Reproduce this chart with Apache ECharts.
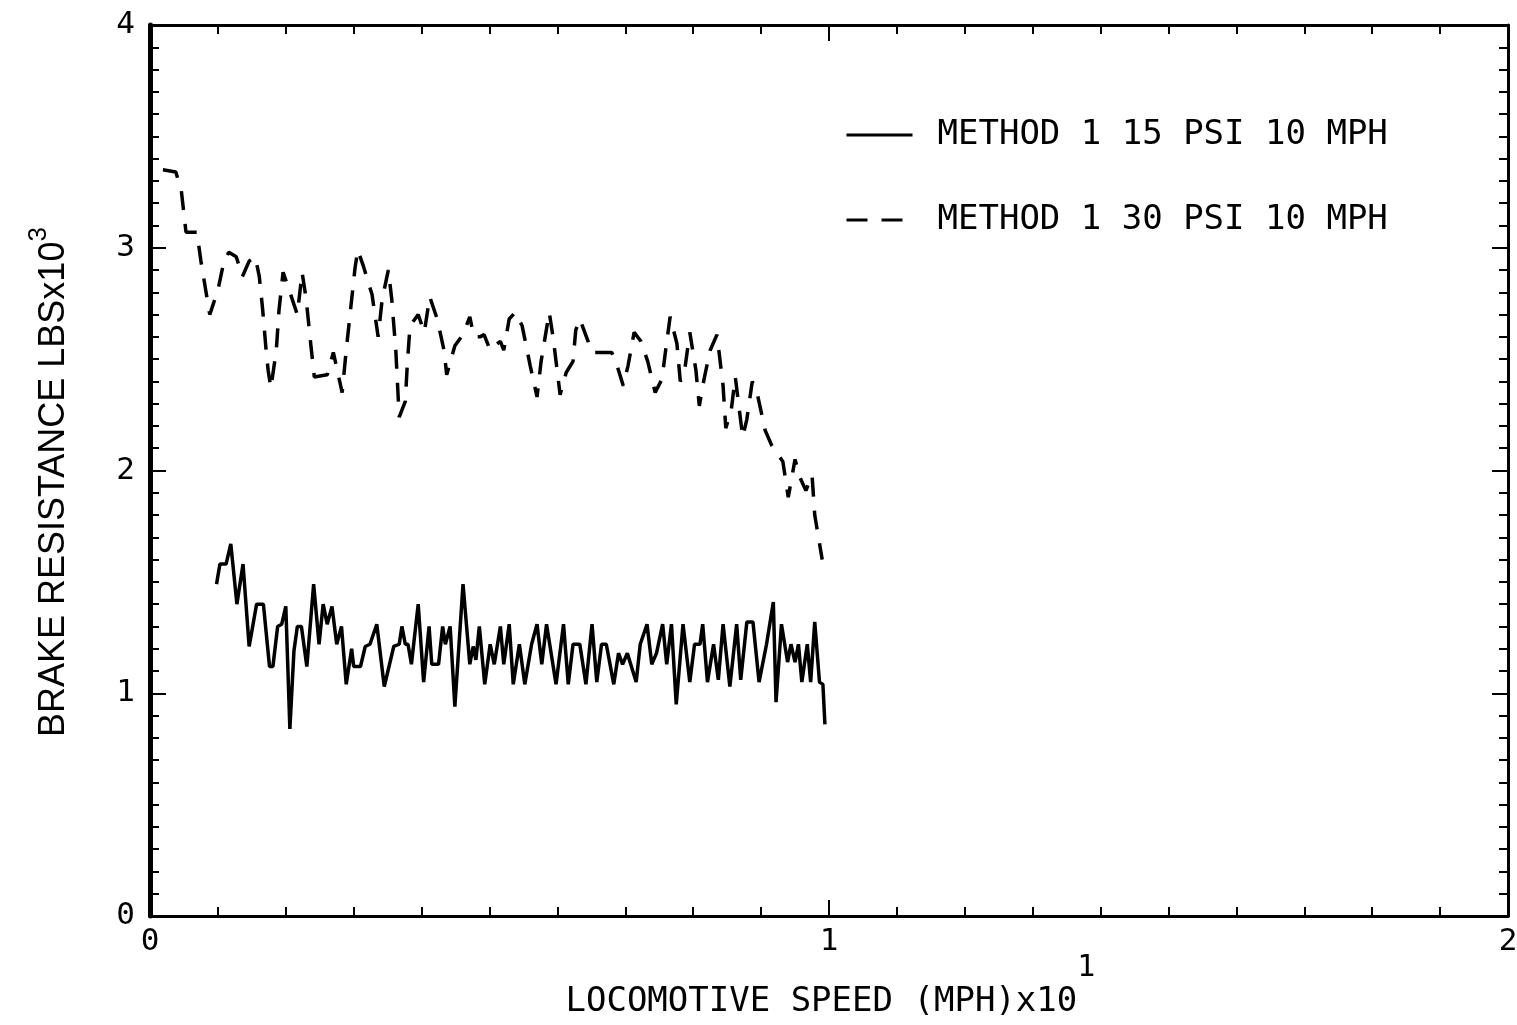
<!DOCTYPE html>
<html>
<head>
<meta charset="utf-8">
<script src="https://cdn.jsdelivr.net/npm/echarts@6/dist/echarts.min.js"></script>
<style>
  html, body { margin: 0; padding: 0; background: #fff; }
  #chart { width: 1517px; height: 1025px; }
</style>
</head>
<body>
<div id="chart"></div>
<script>
// METHOD 1 15 PSI 10 MPH  (speed x10 mph, resistance x10^3 lbs)
var speed15 = [0.098, 0.103, 0.112, 0.119, 0.128, 0.137, 0.146, 0.157, 0.167, 0.176,
  0.181, 0.188, 0.194, 0.200, 0.206, 0.212, 0.217, 0.223, 0.231, 0.241,
  0.249, 0.255, 0.261, 0.268, 0.275, 0.282, 0.289, 0.297, 0.300, 0.310,
  0.317, 0.324, 0.334, 0.345, 0.352, 0.359, 0.367, 0.371, 0.376, 0.380,
  0.385, 0.395, 0.403, 0.411, 0.415, 0.425, 0.431, 0.435, 0.442, 0.449,
  0.461, 0.471, 0.476, 0.480, 0.485, 0.493, 0.501, 0.507, 0.516, 0.521,
  0.529, 0.535, 0.544, 0.552, 0.562, 0.570, 0.577, 0.584, 0.598, 0.609,
  0.616, 0.623, 0.633, 0.642, 0.651, 0.658, 0.665, 0.672, 0.683, 0.690,
  0.696, 0.703, 0.716, 0.722, 0.732, 0.739, 0.746, 0.755, 0.761, 0.768,
  0.775, 0.785, 0.795, 0.802, 0.810, 0.814, 0.821, 0.830, 0.837, 0.844,
  0.854, 0.864, 0.870, 0.879, 0.888, 0.897, 0.908, 0.918, 0.922, 0.930,
  0.939, 0.944, 0.950, 0.955, 0.960, 0.968, 0.973, 0.979, 0.986, 0.991,
  0.994]
var resist15 = [1.49, 1.58, 1.58, 1.67, 1.40, 1.58, 1.21, 1.40, 1.40, 1.12,
  1.12, 1.30, 1.31, 1.39, 0.84, 1.19, 1.30, 1.30, 1.12, 1.49,
  1.22, 1.40, 1.31, 1.39, 1.22, 1.30, 1.04, 1.20, 1.12, 1.12,
  1.21, 1.22, 1.31, 1.03, 1.12, 1.21, 1.22, 1.30, 1.22, 1.22,
  1.13, 1.40, 1.05, 1.30, 1.13, 1.13, 1.30, 1.22, 1.30, 0.94,
  1.49, 1.13, 1.21, 1.15, 1.30, 1.04, 1.22, 1.13, 1.30, 1.13,
  1.31, 1.04, 1.22, 1.04, 1.22, 1.31, 1.13, 1.31, 1.04, 1.31,
  1.04, 1.22, 1.22, 1.04, 1.31, 1.05, 1.22, 1.22, 1.04, 1.18,
  1.13, 1.18, 1.05, 1.22, 1.31, 1.13, 1.18, 1.31, 1.13, 1.31,
  0.95, 1.31, 1.05, 1.22, 1.22, 1.31, 1.05, 1.22, 1.06, 1.31,
  1.03, 1.31, 1.06, 1.32, 1.32, 1.05, 1.22, 1.41, 0.96, 1.31,
  1.14, 1.22, 1.14, 1.22, 1.05, 1.22, 1.05, 1.32, 1.05, 1.04,
  0.86]

// METHOD 1 30 PSI 10 MPH
var speed30 = [0.019, 0.038, 0.046, 0.053, 0.069, 0.075, 0.088, 0.100, 0.109, 0.116,
  0.127, 0.136, 0.146, 0.155, 0.161, 0.166, 0.171, 0.174, 0.178, 0.186,
  0.190, 0.196, 0.205, 0.217, 0.224, 0.230, 0.237, 0.242, 0.261, 0.270,
  0.283, 0.289, 0.296, 0.302, 0.306, 0.314, 0.327, 0.336, 0.342, 0.351,
  0.356, 0.362, 0.367, 0.376, 0.379, 0.383, 0.395, 0.404, 0.412, 0.423,
  0.433, 0.437, 0.449, 0.461, 0.471, 0.477, 0.486, 0.492, 0.501, 0.508,
  0.516, 0.521, 0.529, 0.538, 0.548, 0.560, 0.570, 0.576, 0.582, 0.588,
  0.594, 0.604, 0.613, 0.623, 0.627, 0.633, 0.644, 0.651, 0.680, 0.688,
  0.697, 0.704, 0.713, 0.723, 0.733, 0.744, 0.754, 0.759, 0.766, 0.776,
  0.781, 0.787, 0.795, 0.804, 0.809, 0.816, 0.825, 0.835, 0.844, 0.848,
  0.856, 0.862, 0.868, 0.873, 0.879, 0.887, 0.894, 0.906, 0.916, 0.932,
  0.940, 0.950, 0.957, 0.966, 0.975, 0.979, 0.990]
var resist30 = [3.35, 3.34, 3.26, 3.07, 3.07, 2.94, 2.70, 2.81, 2.94, 2.98,
  2.96, 2.87, 2.94, 2.96, 2.87, 2.72, 2.54, 2.45, 2.37, 2.54,
  2.72, 2.89, 2.81, 2.70, 2.89, 2.77, 2.56, 2.42, 2.43, 2.53,
  2.35, 2.54, 2.74, 2.91, 2.99, 2.92, 2.79, 2.60, 2.77, 2.90,
  2.77, 2.54, 2.24, 2.31, 2.48, 2.65, 2.70, 2.62, 2.78, 2.68,
  2.54, 2.43, 2.56, 2.61, 2.69, 2.60, 2.60, 2.61, 2.54, 2.56,
  2.58, 2.54, 2.68, 2.71, 2.65, 2.47, 2.33, 2.49, 2.60, 2.71,
  2.59, 2.34, 2.44, 2.49, 2.63, 2.68, 2.59, 2.53, 2.53, 2.47,
  2.38, 2.47, 2.62, 2.58, 2.49, 2.35, 2.41, 2.53, 2.69, 2.57,
  2.40, 2.44, 2.62, 2.45, 2.29, 2.41, 2.54, 2.61, 2.38, 2.19,
  2.27, 2.42, 2.27, 2.15, 2.23, 2.40, 2.35, 2.18, 2.11, 2.04,
  1.88, 2.05, 1.97, 1.91, 1.98, 1.80, 1.60]

var xTicks = [0, 1, 2]
var yTicks = [0, 1, 2, 3, 4]
var seriesNames = ['METHOD 1 15 PSI 10 MPH', 'METHOD 1 30 PSI 10 MPH']

function pairs (xs, ys) {
  var out = []
  for (var i = 0; i < xs.length; i++) out.push([xs[i], ys[i]])
  return out
}

var mono = 'DejaVu Sans Mono'
var ink = '#000'

function tickAxis (extra) {
  var base = {
    type: 'value',
    splitLine: { show: false },
    axisLine: { show: true, onZero: false, lineStyle: { color: ink, width: 3 } },
    axisTick: { show: true, inside: true, length: 16, lineStyle: { color: ink, width: 2 } },
    minorTick: { show: true, splitNumber: 10, length: 9, lineStyle: { color: ink, width: 2 } },
    axisLabel: { show: false }
  }
  return Object.assign(base, extra)
}

var myChart = echarts.init(document.getElementById('chart'))
myChart.setOption({
  animation: false,
  backgroundColor: '#fff',
  grid: {
    left: 150,
    right: 9,
    top: 25,
    bottom: 109,
    containLabel: false,
    outerBoundsMode: 'none'
  },
  legend: {
    orient: 'vertical',
    left: 840,
    top: 110,
    itemWidth: 66,
    itemHeight: 14,
    itemGap: 45,
    itemStyle: { opacity: 0, borderWidth: 0 },
    lineStyle: { width: 3, color: ink },
    textStyle: { fontFamily: mono, fontSize: 34, color: ink, lineHeight: 40, padding: [0, 0, 0, 20] },
    data: [
      { name: seriesNames[0], lineStyle: { width: 3, type: 'solid' } },
      { name: seriesNames[1], lineStyle: { width: 3, type: [21, 14] } }
    ]
  },
  xAxis: [
    tickAxis({
      position: 'bottom',
      min: xTicks[0],
      max: xTicks[xTicks.length - 1],
      interval: 1,
      axisLabel: {
        show: true, margin: 10, color: ink, fontFamily: mono, fontSize: 31,
        formatter: function (v) { return xTicks.indexOf(v) >= 0 ? String(v) : '' }
      },
      name: '{h| }{m|LOCOMOTIVE SPEED (MPH)x10}{s|1}',
      nameLocation: 'middle',
      nameMoveOverlap: false,
      nameGap: 37,
      nameTextStyle: {
        color: ink,
        rich: {
          h: { fontSize: 10, lineHeight: 66 },
          m: { fontFamily: mono, fontSize: 34, lineHeight: 36, verticalAlign: 'bottom', color: ink },
          s: { fontFamily: mono, fontSize: 30, lineHeight: 30, verticalAlign: 'top', color: ink }
        }
      }
    }),
    tickAxis({ position: 'top', min: 0, max: 2, interval: 1 })
  ],
  yAxis: [
    tickAxis({
      position: 'left',
      min: yTicks[0],
      max: yTicks[yTicks.length - 1],
      interval: 1,
      axisLine: { show: true, onZero: false, lineStyle: { color: ink, width: 5 } },
      axisLabel: {
        show: true, margin: 15, color: ink, fontFamily: mono, fontSize: 31,
        formatter: function (v) { return yTicks.indexOf(v) >= 0 ? String(v) : '' }
      },
      name: '{h| }{m|BRAKE RESISTANCE LBSx10}{s|3}{p| }',
      nameLocation: 'middle',
      nameGap: 78,
      nameTextStyle: {
        color: ink,
        rich: {
          h: { fontSize: 10, lineHeight: 46 },
          m: { fontFamily: 'Liberation Sans', fontSize: 36, lineHeight: 36, verticalAlign: 'bottom', color: ink },
          s: { fontFamily: 'Liberation Sans', fontSize: 26, lineHeight: 26, verticalAlign: 'top', color: ink },
          p: { fontSize: 10, width: 26 }
        }
      }
    }),
    tickAxis({ position: 'right', min: 0, max: 4, interval: 1 })
  ],
  series: [
    {
      name: seriesNames[0],
      type: 'line',
      symbol: 'none',
      lineStyle: { color: ink, width: 3.5 },
      itemStyle: { color: ink },
      data: pairs(speed15, resist15)
    },
    {
      name: seriesNames[1],
      type: 'line',
      symbol: 'none',
      lineStyle: { color: ink, width: 3.5, type: [19, 14] },
      itemStyle: { color: ink },
      data: pairs(speed30, resist30)
    }
  ]
})
</script>
</body>
</html>
